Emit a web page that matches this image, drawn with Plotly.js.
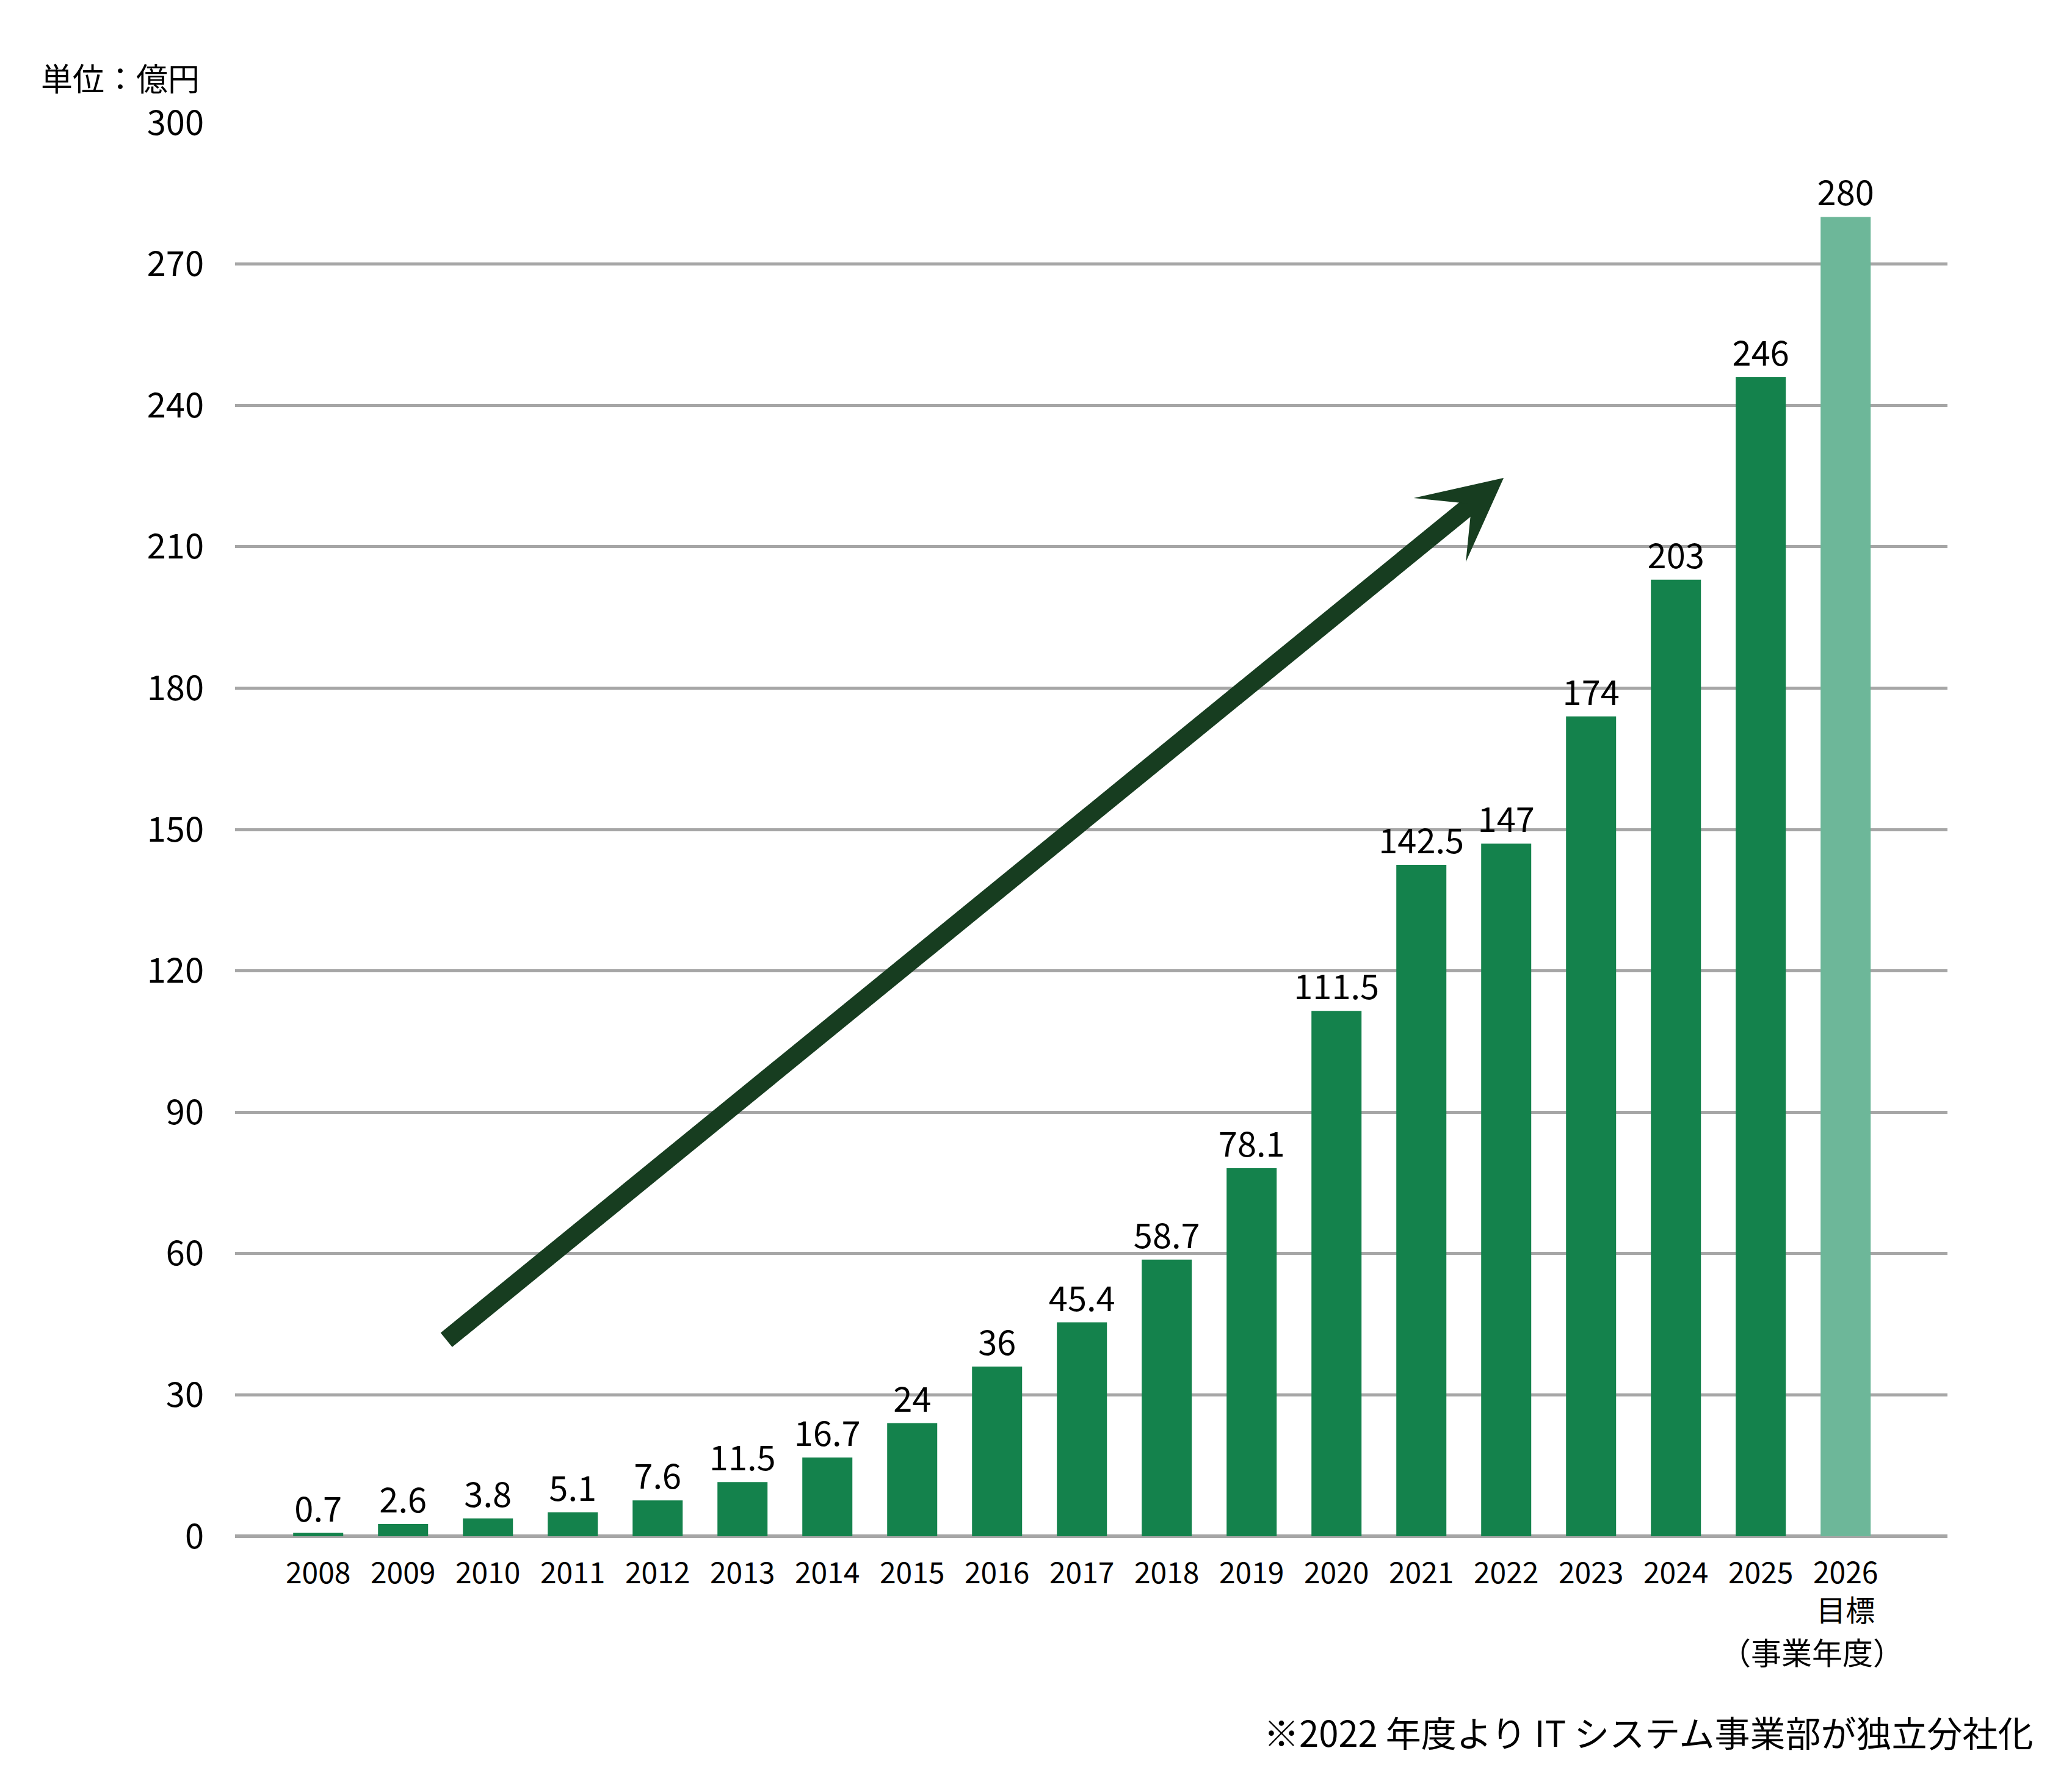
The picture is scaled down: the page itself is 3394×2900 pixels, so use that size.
<!DOCTYPE html>
<html>
<head>
<meta charset="utf-8">
<script src="https://cdn.plot.ly/plotly-3.0.1.min.js"></script>
<style>
  html, body { margin: 0; padding: 0; background: #ffffff; }
  #chart { width: 3394px; height: 2900px; }
</style>
</head>
<body>
<div id="chart"></div>
<script>
// 売上推移（単位：億円）

var years = ['2008', '2009', '2010', '2011', '2012', '2013', '2014', '2015', '2016',
  '2017', '2018', '2019', '2020', '2021', '2022', '2023', '2024', '2025', '2026'];

var sales = [0.7, 2.6, 3.8, 5.1, 7.6, 11.5, 16.7, 24, 36,
  45.4, 58.7, 78.1, 111.5, 142.5, 147, 174, 203, 246, 280];

var tickLabels = ['2008', '2009', '2010', '2011', '2012', '2013', '2014', '2015', '2016',
  '2017', '2018', '2019', '2020', '2021', '2022', '2023', '2024', '2025', '2026<br>目標'];

var yTicks = [0, 30, 60, 90, 120, 150, 180, 210, 240, 270, 300];

// 実績は濃い緑、2026 目標は薄い緑
var barColors = years.map(function (y) {
  return y === '2026' ? '#6db799' : '#14824c';
});

var fontFamily = '"Noto Sans CJK JP", "Noto Sans", sans-serif';

var bars = {
  x: years,
  y: sales,
  type: 'bar',
  text: sales.map(String),
  textposition: 'outside',
  constraintext: 'none',
  cliponaxis: false,
  hoverinfo: 'none',
  textfont: { size: 56, color: '#000000', family: fontFamily },
  marker: { color: barColors }
};

var layout = {
  width: 3394,
  height: 2900,
  showlegend: false,
  paper_bgcolor: '#ffffff',
  plot_bgcolor: '#ffffff',
  font: { family: fontFamily, size: 52, color: '#000000' },
  bargap: 0.41,
  margin: { l: 385, r: 204, t: 201, b: 383 },
  xaxis: {
    type: 'category',
    range: [-0.98, 19.2],
    tickvals: years,
    ticktext: tickLabels,
    showgrid: false,
    showline: false,
    ticks: '',
    ticklabelstandoff: 28,
    tickfont: { size: 48 }
  },
  yaxis: {
    range: [0, 300],
    tickvals: yTicks,
    showgrid: true,
    gridcolor: '#a6a6a6',
    gridwidth: 5,
    zeroline: true,
    zerolinecolor: '#a6a6a6',
    zerolinewidth: 6,
    showline: false,
    ticks: '',
    ticklabelstandoff: 50,
    tickfont: { size: 56 }
  },
  annotations: [
    // 右肩上がりの矢印
    {
      xref: 'x', yref: 'y', axref: 'x', ayref: 'y',
      x: 13.97, y: 224.6,
      ax: 1.5, ay: 41.5,
      text: '',
      showarrow: true,
      arrowhead: 3,
      arrowsize: 0.75,
      arrowwidth: 30,
      arrowcolor: '#173d20'
    },
    {
      xref: 'paper', yref: 'paper',
      x: -0.114, y: 1.032,
      xanchor: 'left', yanchor: 'middle',
      text: '単位：億円',
      showarrow: false,
      font: { size: 52 }
    },
    {
      xref: 'x', yref: 'paper',
      x: 17.6, y: -0.081,
      xanchor: 'center', yanchor: 'middle',
      borderpad: 0,
      text: '（事業年度）',
      showarrow: false,
      font: { size: 50 }
    },
    {
      xref: 'paper', yref: 'paper',
      x: 1.051, y: -0.138,
      xanchor: 'right', yanchor: 'middle',
      text: '※2022 年度より IT システム事業部が独立分社化',
      showarrow: false,
      font: { size: 58 }
    }
  ]
};

Plotly.newPlot('chart', [bars], layout, { staticPlot: true });
</script>
</body>
</html>
